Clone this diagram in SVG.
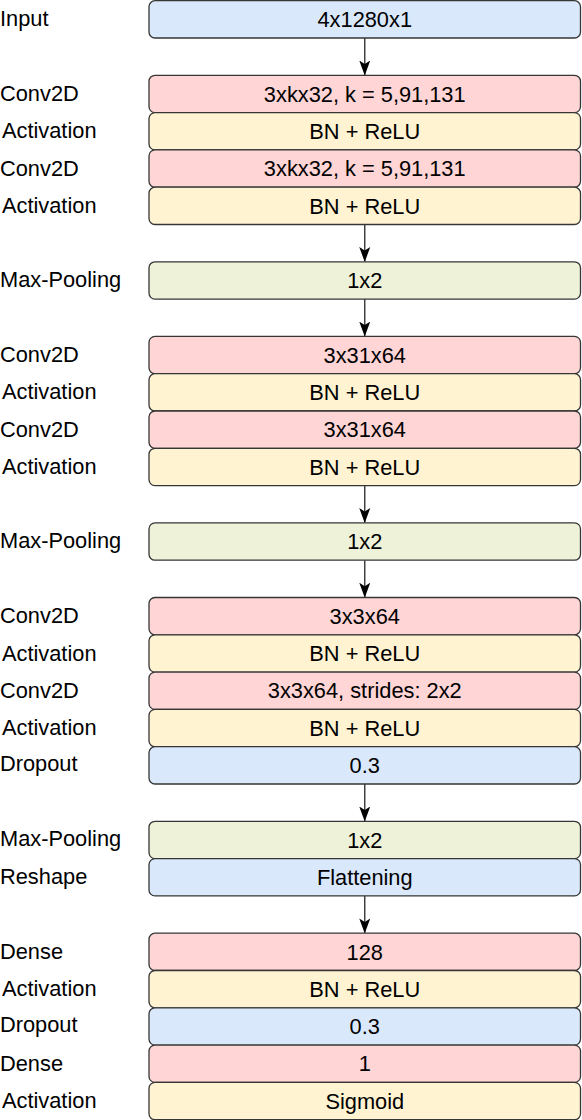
<svg xmlns="http://www.w3.org/2000/svg" width="582" height="1120" viewBox="0 0 582 1120">
<style>
.b{stroke:#363636;stroke-width:1.3}
.blue{fill:#dae8fc}
.red{fill:#ffd5d5}
.yel{fill:#fff3d2}
.grn{fill:#edf2d8}
text{font-family:"Liberation Sans",Arial,sans-serif;font-size:21.8px;fill:#000}
.c{text-anchor:middle}
.e{stroke:#363636;stroke-width:1.4;fill:none}
</style>
<defs>
<marker id="arr" markerUnits="userSpaceOnUse" markerWidth="15" markerHeight="12" viewBox="0 0 15 12" refX="14.5" refY="6" orient="auto">
<path d="M0,0.5 L15,6 L0,11.5 L3.5,6 z" fill="#000"/>
</marker>
</defs>
<g id="connectors">
<line class="e" x1="364.75" y1="38" x2="364.75" y2="75" marker-end="url(#arr)"/>
<line class="e" x1="364.75" y1="224.5" x2="364.75" y2="261.5" marker-end="url(#arr)"/>
<line class="e" x1="364.75" y1="299.1" x2="364.75" y2="336.1" marker-end="url(#arr)"/>
<line class="e" x1="364.75" y1="485.6" x2="364.75" y2="522.6" marker-end="url(#arr)"/>
<line class="e" x1="364.75" y1="560.2" x2="364.75" y2="597.2" marker-end="url(#arr)"/>
<line class="e" x1="364.75" y1="784" x2="364.75" y2="821" marker-end="url(#arr)"/>
<line class="e" x1="364.75" y1="895.9" x2="364.75" y2="932.9" marker-end="url(#arr)"/>
</g>
<g id="n0"><rect class="b blue" x="149" y="0.7" width="431.5" height="37.3" rx="6"/><text x="0" y="26.2">Input</text><text class="c" x="364.75" y="27">4x1280x1</text></g>
<g id="n2"><rect class="b red" x="149" y="75.3" width="431.5" height="37.3" rx="6"/><text x="0" y="101">Conv2D</text><text class="c" x="364.75" y="101.6">3xkx32, k = 5,91,131</text></g>
<g id="n3"><rect class="b yel" x="149" y="112.6" width="431.5" height="37.3" rx="6"/><text x="2" y="138">Activation</text><text class="c" x="364.75" y="138.9">BN + ReLU</text></g>
<g id="n4"><rect class="b red" x="149" y="149.9" width="431.5" height="37.3" rx="6"/><text x="0" y="175.6">Conv2D</text><text class="c" x="364.75" y="176.2">3xkx32, k = 5,91,131</text></g>
<g id="n5"><rect class="b yel" x="149" y="187.2" width="431.5" height="37.3" rx="6"/><text x="2" y="212.9">Activation</text><text class="c" x="364.75" y="213.5">BN + ReLU</text></g>
<g id="n7"><rect class="b grn" x="149" y="261.8" width="431.5" height="37.3" rx="6"/><text x="0" y="286.5">Max-Pooling</text><text class="c" x="364.75" y="288.1">1x2</text></g>
<g id="n9"><rect class="b red" x="149" y="336.4" width="431.5" height="37.3" rx="6"/><text x="0" y="362.1">Conv2D</text><text class="c" x="364.75" y="362.7">3x31x64</text></g>
<g id="n10"><rect class="b yel" x="149" y="373.7" width="431.5" height="37.3" rx="6"/><text x="2" y="399.4">Activation</text><text class="c" x="364.75" y="400">BN + ReLU</text></g>
<g id="n11"><rect class="b red" x="149" y="411" width="431.5" height="37.3" rx="6"/><text x="0" y="436.7">Conv2D</text><text class="c" x="364.75" y="437.3">3x31x64</text></g>
<g id="n12"><rect class="b yel" x="149" y="448.3" width="431.5" height="37.3" rx="6"/><text x="2" y="474">Activation</text><text class="c" x="364.75" y="474.6">BN + ReLU</text></g>
<g id="n14"><rect class="b grn" x="149" y="522.9" width="431.5" height="37.3" rx="6"/><text x="0" y="547.6">Max-Pooling</text><text class="c" x="364.75" y="549.2">1x2</text></g>
<g id="n16"><rect class="b red" x="149" y="597.5" width="431.5" height="37.3" rx="6"/><text x="0" y="623.2">Conv2D</text><text class="c" x="364.75" y="623.8">3x3x64</text></g>
<g id="n17"><rect class="b yel" x="149" y="634.8" width="431.5" height="37.3" rx="6"/><text x="2" y="660.5">Activation</text><text class="c" x="364.75" y="661.1">BN + ReLU</text></g>
<g id="n18"><rect class="b red" x="149" y="672.1" width="431.5" height="37.3" rx="6"/><text x="0" y="697.8">Conv2D</text><text class="c" x="364.75" y="698.4">3x3x64, strides: 2x2</text></g>
<g id="n19"><rect class="b yel" x="149" y="709.4" width="431.5" height="37.3" rx="6"/><text x="2" y="735.1">Activation</text><text class="c" x="364.75" y="735.7">BN + ReLU</text></g>
<g id="n20"><rect class="b blue" x="149" y="746.7" width="431.5" height="37.3" rx="6"/><text x="0" y="770.5">Dropout</text><text class="c" x="364.75" y="773">0.3</text></g>
<g id="n22"><rect class="b grn" x="149" y="821.3" width="431.5" height="37.3" rx="6"/><text x="0" y="846">Max-Pooling</text><text class="c" x="364.75" y="847.6">1x2</text></g>
<g id="n23"><rect class="b blue" x="149" y="858.6" width="431.5" height="37.3" rx="6"/><text x="0" y="883.5">Reshape</text><text class="c" x="364.75" y="884.9">Flattening</text></g>
<g id="n25"><rect class="b red" x="149" y="933.2" width="431.5" height="37.3" rx="6"/><text x="0" y="958.9">Dense</text><text class="c" x="364.75" y="959.5">128</text></g>
<g id="n26"><rect class="b yel" x="149" y="970.5" width="431.5" height="37.3" rx="6"/><text x="2" y="996.2">Activation</text><text class="c" x="364.75" y="996.8">BN + ReLU</text></g>
<g id="n27"><rect class="b blue" x="149" y="1007.8" width="431.5" height="37.3" rx="6"/><text x="0" y="1031.6">Dropout</text><text class="c" x="364.75" y="1034.1">0.3</text></g>
<g id="n28"><rect class="b red" x="149" y="1045.1" width="431.5" height="37.3" rx="6"/><text x="0" y="1070.8">Dense</text><text class="c" x="364.75" y="1071.4">1</text></g>
<g id="n29"><rect class="b yel" x="149" y="1082.4" width="431.5" height="37.3" rx="6"/><text x="2" y="1108.1">Activation</text><text class="c" x="364.75" y="1108.7">Sigmoid</text></g>
</svg>
